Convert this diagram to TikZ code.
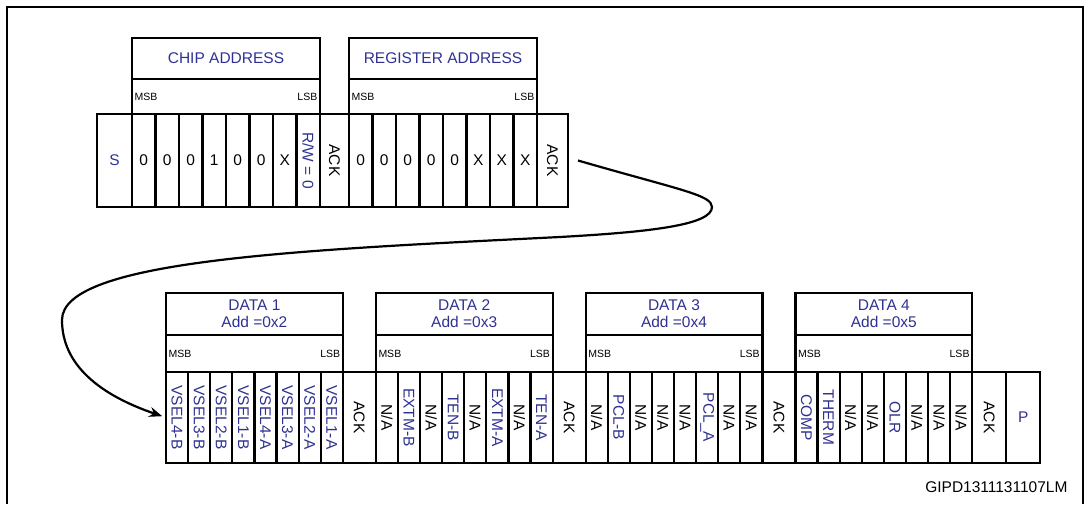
\documentclass[tikz,border=0pt]{standalone}
\usepackage{fontspec}
\setmainfont{Liberation Sans}
\usepackage{graphicx}
\usetikzlibrary{positioning,arrows.meta}
\definecolor{stblue}{RGB}{46,49,146}
\newcommand{\rotlabel}[1]{\rotatebox{-90}{#1}}

\begin{document}
\begin{tikzpicture}[x=1pt,y=1pt,
  cell/.style={draw,line width=2.2pt,inner sep=0pt,outer sep=0pt,font=\fontsize{15.5}{17}\selectfont},
  topbit/.style={cell,minimum width=23.5pt,minimum height=93pt},
  topack/.style={cell,minimum height=93pt},
  botbit/.style={cell,minimum width=22.1pt,minimum height=91pt},
  botack/.style={cell,minimum width=33pt,minimum height=91pt},
  headbox/.style={cell,text=stblue,align=center},
  msbbox/.style={cell},
  edgelabel/.style={inner sep=2.5pt,font=\fontsize{10.5}{12}\selectfont},
  hl/.style={text=stblue},
  flowline/.style={line width=2.2pt,-{Stealth[length=13pt,width=10pt]},shorten >=4pt}]
\useasboundingbox (0,0) rectangle (1088,504);
\draw[line width=2pt] (7,0) -- (7,497) -- (1083,497) -- (1083,0);

% chip address + register address
\node[topack,hl,minimum width=35pt,anchor=north west] (s) at (97,390) {S};
\node[topbit,right=0pt of s] (ca7) {0};
\node[topbit,right=0pt of ca7] (ca6) {0};
\node[topbit,right=0pt of ca6] (ca5) {0};
\node[topbit,right=0pt of ca5] (ca4) {1};
\node[topbit,right=0pt of ca4] (ca3) {0};
\node[topbit,right=0pt of ca3] (ca2) {0};
\node[topbit,right=0pt of ca2] (ca1) {X};
\node[topbit,hl,right=0pt of ca1] (ca0) {\rotlabel{R/W = 0}};
\node[topack,minimum width=29pt,right=0pt of ca0] (ack1) {\rotlabel{ACK}};
\node[topbit,right=0pt of ack1] (ra7) {0};
\node[topbit,right=0pt of ra7] (ra6) {0};
\node[topbit,right=0pt of ra6] (ra5) {0};
\node[topbit,right=0pt of ra5] (ra4) {0};
\node[topbit,right=0pt of ra4] (ra3) {0};
\node[topbit,right=0pt of ra3] (ra2) {X};
\node[topbit,right=0pt of ra2] (ra1) {X};
\node[topbit,right=0pt of ra1] (ra0) {X};
\node[topack,minimum width=31pt,right=0pt of ra0] (ack2) {\rotlabel{ACK}};

\node[msbbox,minimum width=188pt,minimum height=35pt,anchor=south west] (camsb) at (ca7.north west) {};
\node[headbox,minimum width=188pt,minimum height=41pt,above=0pt of camsb] (cahead) {CHIP ADDRESS};
\node[edgelabel,anchor=west] (camsbl) at (camsb.west) {MSB};
\node[edgelabel,anchor=east] (calsbl) at (camsb.east) {LSB};

\node[msbbox,minimum width=188pt,minimum height=35pt,anchor=south west] (ramsb) at (ra7.north west) {};
\node[headbox,minimum width=188pt,minimum height=41pt,above=0pt of ramsb] (rahead) {REGISTER ADDRESS};
\node[edgelabel,anchor=west] (ramsbl) at (ramsb.west) {MSB};
\node[edgelabel,anchor=east] (ralsbl) at (ramsb.east) {LSB};

% data bytes
\node[botbit,hl,anchor=north west] (da7) at (166,132) {\rotlabel{VSEL4-B}};
\node[botbit,hl,right=0pt of da7] (da6) {\rotlabel{VSEL3-B}};
\node[botbit,hl,right=0pt of da6] (da5) {\rotlabel{VSEL2-B}};
\node[botbit,hl,right=0pt of da5] (da4) {\rotlabel{VSEL1-B}};
\node[botbit,hl,right=0pt of da4] (da3) {\rotlabel{VSEL4-A}};
\node[botbit,hl,right=0pt of da3] (da2) {\rotlabel{VSEL3-A}};
\node[botbit,hl,right=0pt of da2] (da1) {\rotlabel{VSEL2-A}};
\node[botbit,hl,right=0pt of da1] (da0) {\rotlabel{VSEL1-A}};
\node[botack,right=0pt of da0] (ack3) {\rotlabel{ACK}};

\node[botbit,right=0pt of ack3] (db7) {\rotlabel{N/A}};
\node[botbit,hl,right=0pt of db7] (db6) {\rotlabel{EXTM-B}};
\node[botbit,right=0pt of db6] (db5) {\rotlabel{N/A}};
\node[botbit,hl,right=0pt of db5] (db4) {\rotlabel{TEN-B}};
\node[botbit,right=0pt of db4] (db3) {\rotlabel{N/A}};
\node[botbit,hl,right=0pt of db3] (db2) {\rotlabel{EXTM-A}};
\node[botbit,right=0pt of db2] (db1) {\rotlabel{N/A}};
\node[botbit,hl,right=0pt of db1] (db0) {\rotlabel{TEN-A}};
\node[botack,right=0pt of db0] (ack4) {\rotlabel{ACK}};

\node[botbit,right=0pt of ack4] (dc7) {\rotlabel{N/A}};
\node[botbit,hl,right=0pt of dc7] (dc6) {\rotlabel{PCL-B}};
\node[botbit,right=0pt of dc6] (dc5) {\rotlabel{N/A}};
\node[botbit,right=0pt of dc5] (dc4) {\rotlabel{N/A}};
\node[botbit,right=0pt of dc4] (dc3) {\rotlabel{N/A}};
\node[botbit,hl,right=0pt of dc3] (dc2) {\rotlabel{PCL\_A}};
\node[botbit,right=0pt of dc2] (dc1) {\rotlabel{N/A}};
\node[botbit,right=0pt of dc1] (dc0) {\rotlabel{N/A}};
\node[botack,right=0pt of dc0] (ack5) {\rotlabel{ACK}};

\node[botbit,hl,right=0pt of ack5] (dd7) {\rotlabel{COMP}};
\node[botbit,hl,right=0pt of dd7] (dd6) {\rotlabel{THERM}};
\node[botbit,right=0pt of dd6] (dd5) {\rotlabel{N/A}};
\node[botbit,right=0pt of dd5] (dd4) {\rotlabel{N/A}};
\node[botbit,hl,right=0pt of dd4] (dd3) {\rotlabel{OLR}};
\node[botbit,right=0pt of dd3] (dd2) {\rotlabel{N/A}};
\node[botbit,right=0pt of dd2] (dd1) {\rotlabel{N/A}};
\node[botbit,right=0pt of dd1] (dd0) {\rotlabel{N/A}};
\node[botack,minimum width=34pt,right=0pt of dd0] (ack6) {\rotlabel{ACK}};
\node[botack,hl,minimum width=34pt,right=0pt of ack6] (p) {P};

\node[msbbox,minimum width=176.8pt,minimum height=37pt,anchor=south west] (damsb) at (da7.north west) {};
\node[headbox,minimum width=176.8pt,minimum height=42pt,above=0pt of damsb] (dahead) {DATA 1\\Add =0x2};
\node[edgelabel,anchor=west] (damsbl) at (damsb.west) {MSB};
\node[edgelabel,anchor=east] (dalsbl) at (damsb.east) {LSB};

\node[msbbox,minimum width=176.8pt,minimum height=37pt,anchor=south west] (dbmsb) at (db7.north west) {};
\node[headbox,minimum width=176.8pt,minimum height=42pt,above=0pt of dbmsb] (dbhead) {DATA 2\\Add =0x3};
\node[edgelabel,anchor=west] (dbmsbl) at (dbmsb.west) {MSB};
\node[edgelabel,anchor=east] (dblsbl) at (dbmsb.east) {LSB};

\node[msbbox,minimum width=176.8pt,minimum height=37pt,anchor=south west] (dcmsb) at (dc7.north west) {};
\node[headbox,minimum width=176.8pt,minimum height=42pt,above=0pt of dcmsb] (dchead) {DATA 3\\Add =0x4};
\node[edgelabel,anchor=west] (dcmsbl) at (dcmsb.west) {MSB};
\node[edgelabel,anchor=east] (dclsbl) at (dcmsb.east) {LSB};

\node[msbbox,minimum width=176.8pt,minimum height=37pt,anchor=south west] (ddmsb) at (dd7.north west) {};
\node[headbox,minimum width=176.8pt,minimum height=42pt,above=0pt of ddmsb] (ddhead) {DATA 4\\Add =0x5};
\node[edgelabel,anchor=west] (ddmsbl) at (ddmsb.west) {MSB};
\node[edgelabel,anchor=east] (ddlsbl) at (ddmsb.east) {LSB};

% from the register address to data 1
\draw[flowline] ([xshift=10pt]ack2.east) .. controls (680,314) and (712,309) .. (712,297)
  .. controls (712,279) and (650,272) .. (560,267)
  .. controls (300,254) and (62,244) .. (62,184)
  .. controls (62,139) and (100,109) .. (da7.west);

\node[anchor=east,font=\fontsize{15.5}{18}\selectfont] (figid) at (1071,17) {GIPD1311131107LM};
\end{tikzpicture}
\end{document}
